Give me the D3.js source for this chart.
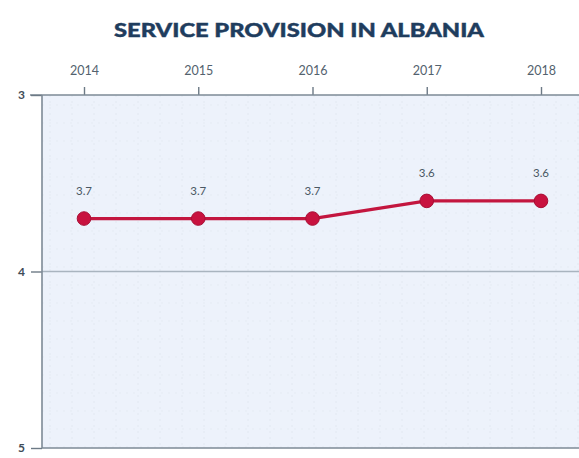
<!DOCTYPE html>
<html>
<head>
<meta charset="utf-8">
<script src="https://cdn.jsdelivr.net/npm/d3@7"></script>
<style>
html,body{margin:0;padding:0;background:#fff;}
svg{display:block;}
</style>
</head>
<body>
<svg id="chart" width="579" height="458"></svg>
<script>
const title = "SERVICE PROVISION IN ALBANIA";
const years = ["2014", "2015", "2016", "2017", "2018"];
const values = [3.7, 3.7, 3.7, 3.6, 3.6];
const yTicks = [3, 4, 5];

(function () {
const svg = d3.select("#chart");
const pLeft = 42, pTop = 95, pBottom = 448, pRight = 579;

const x = d3.scalePoint().domain(years).range([84, 541]);
const y = d3.scaleLinear().domain([3, 5]).range([pTop, pBottom]);

// background
svg.append("rect").attr("x", pLeft).attr("y", pTop).attr("width", pRight - pLeft).attr("height", pBottom - pTop)
  .attr("fill", "#edf2fb");

// faint dotted grid
const g = svg.append("g");
const gx = d3.range(pLeft + 8, pRight, 22);
const gy = d3.range(pTop + 10, pBottom, 18);
g.selectAll("line.vx").data(gx).join("line")
  .attr("x1", d => d).attr("x2", d => d).attr("y1", pTop).attr("y2", pBottom)
  .attr("stroke", "#e2e8f1").attr("stroke-width", 1).attr("stroke-dasharray", "2,4");
g.selectAll("line.hy").data(gy).join("line")
  .attr("x1", pLeft).attr("x2", pRight).attr("y1", d => d).attr("y2", d => d)
  .attr("stroke", "#e5ebf3").attr("stroke-width", 1).attr("stroke-dasharray", "2,5");

// horizontal grid at 4
svg.append("line").attr("x1", pLeft).attr("x2", pRight).attr("y1", y(4)).attr("y2", y(4))
  .attr("stroke", "#a9b4bf").attr("stroke-width", 1.3);

// title
svg.append("text").attr("x", 299).attr("y", 37).attr("text-anchor", "middle")
  .attr("font-family", "Lato, 'Open Sans', sans-serif").attr("font-weight", 900)
  .attr("font-size", 18.5).attr("textLength", 370).attr("lengthAdjust", "spacingAndGlyphs")
  .attr("fill", "#1f3d5e").attr("stroke", "#1f3d5e").attr("stroke-width", 0.4).text(title);

// top axis
const xAxis = d3.axisTop(x).tickSize(8).tickPadding(12);
const ax = svg.append("g").attr("transform", `translate(0,${pTop})`).call(xAxis);
ax.select(".domain").remove();
ax.append("line").attr("x1", 30).attr("x2", pRight).attr("y1", 0).attr("y2", 0)
  .attr("stroke", "#7d8a96").attr("stroke-width", 1.6);
ax.selectAll(".tick line").attr("stroke", "#6d7a86").attr("stroke-width", 1.4);
ax.selectAll(".tick text").attr("font-family", "Lato, 'Open Sans', sans-serif")
  .attr("font-size", 12.5).attr("fill", "#53626e");

// left axis
const yAxis = d3.axisLeft(y).tickValues(yTicks).tickSize(11).tickPadding(6).tickFormat(d3.format("d"));
const ay = svg.append("g").attr("transform", `translate(${pLeft},0)`).call(yAxis);
ay.select(".domain").remove();
ay.append("line").attr("x1", 0).attr("x2", 0).attr("y1", pTop).attr("y2", pBottom)
  .attr("stroke", "#7d8a96").attr("stroke-width", 1.6);
ay.selectAll(".tick line").attr("stroke", "#6d7a86").attr("stroke-width", 1.4);
ay.selectAll(".tick text").attr("font-family", "Lato, 'Open Sans', sans-serif")
  .attr("font-size", 12).attr("font-weight", 700).attr("fill", "#3f4c58");

// bottom line
svg.append("line").attr("x1", pLeft).attr("x2", pRight).attr("y1", pBottom).attr("y2", pBottom)
  .attr("stroke", "#7d8a96").attr("stroke-width", 1.6);

// line
const data = years.map((yr, i) => ({yr, v: values[i]}));
svg.append("path").datum(data)
  .attr("d", d3.line().x(d => x(d.yr)).y(d => y(d.v)))
  .attr("fill", "none").attr("stroke", "#c3163f").attr("stroke-width", 3.2);

svg.selectAll("circle.pt").data(data).join("circle")
  .attr("cx", d => x(d.yr)).attr("cy", d => y(d.v)).attr("r", 6.8)
  .attr("fill", "#c8123f").attr("stroke", "#a80f35").attr("stroke-width", 1);

svg.selectAll("text.lbl").data(data).join("text")
  .attr("x", d => x(d.yr)).attr("y", d => y(d.v) - 24)
  .attr("text-anchor", "middle")
  .attr("font-family", "Lato, 'Open Sans', sans-serif").attr("font-size", 11.5)
  .attr("fill", "#4a5863").text(d => d3.format(".1f")(d.v));
})();
</script>
</body>
</html>
